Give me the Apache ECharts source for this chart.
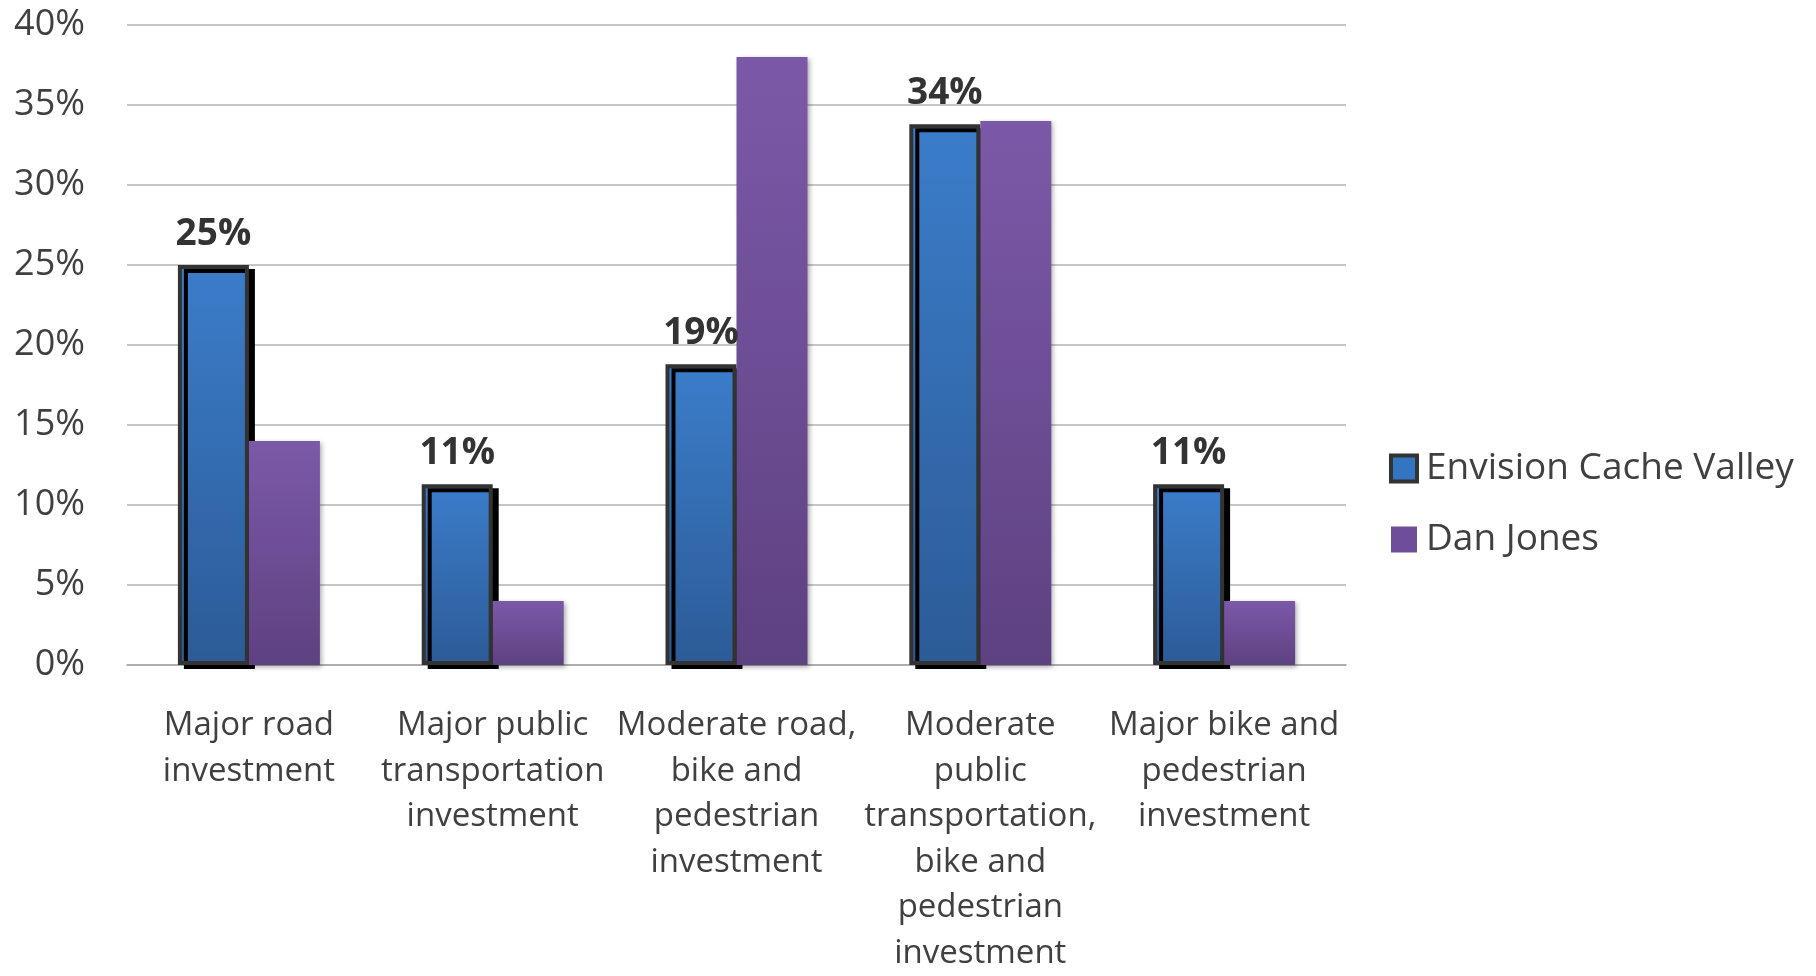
<!DOCTYPE html>
<html>
<head>
<meta charset="utf-8">
<script src="https://cdn.jsdelivr.net/npm/echarts@6/dist/echarts.min.js"></script>
<style>
  html, body { margin: 0; padding: 0; width: 100%; height: 100%; overflow: hidden; background: #fff; }
  #main { width: 100%; height: 100%; }
</style>
</head>
<body>
<div id="main"></div>
<script>
// data
const categories = [
  "Major road\ninvestment",
  "Major public\ntransportation\ninvestment",
  "Moderate road,\nbike and\npedestrian\ninvestment",
  "Moderate\npublic\ntransportation,\nbike and\npedestrian\ninvestment",
  "Major bike and\npedestrian\ninvestment"
];
const envisionValues = [25, 11.3, 18.8, 33.8, 11.3];
const danJonesValues = [14, 4, 38, 34, 4];
const seriesNames = ["Envision Cache Valley", "Dan Jones"];

const font = "'Open Sans', sans-serif";
const textColor = "#404040";

const blueFill = new echarts.graphic.LinearGradient(0, 0, 0, 1, [
  { offset: 0, color: "#3b7dca" },
  { offset: 1, color: "#2c5b97" }
]);
const purpleFill = new echarts.graphic.LinearGradient(0, 0, 0, 1, [
  { offset: 0, color: "#7c59a8" },
  { offset: 1, color: "#5e4181" }
]);

const chart = echarts.init(document.getElementById("main"));
chart.setOption({
  animation: false,
  textStyle: { fontFamily: font },
  grid: { left: 127, right: 470, top: 25, height: 648 },
  legend: {
    orient: "vertical",
    left: 1384,
    top: 445,
    icon: "rect",
    itemWidth: 26,
    itemHeight: 26,
    itemGap: 34,
    data: [
      { name: seriesNames[0], itemStyle: { color: "#3475c2", borderColor: "#333", borderWidth: 4 } },
      { name: seriesNames[1], itemStyle: { color: "#6e4e98", borderWidth: 0 } }
    ],
    textStyle: { fontSize: 37, color: textColor, fontFamily: font, padding: [0, 0, 0, 4] }
  },
  xAxis: {
    type: "category",
    data: categories,
    axisLine: { lineStyle: { color: "#a6a6a6", width: 1.5 } },
    axisTick: { show: false },
    axisLabel: {
      interval: 0,
      fontSize: 33,
      lineHeight: 45.5,
      color: textColor,
      fontFamily: font,
      margin: 38
    }
  },
  yAxis: {
    type: "value",
    min: 0,
    max: 40,
    interval: 5,
    axisLine: { show: false },
    axisTick: { show: false },
    splitLine: { lineStyle: { color: "#b3b3b3", width: 1.5 } },
    axisLabel: {
      formatter: "{value}%",
      fontSize: 36,
      color: textColor,
      fontFamily: font,
      margin: 42
    }
  },
  series: [
    {
      name: seriesNames[0],
      type: "bar",
      data: envisionValues,
      barWidth: 71,
      barGap: "0%",
      itemStyle: {
        color: blueFill,
        borderColor: "#333333",
        borderWidth: 4,
        shadowColor: "#000",
        shadowBlur: 0,
        shadowOffsetX: 6,
        shadowOffsetY: 4
      },
      label: {
        show: true,
        position: "top",
        distance: 12,
        fontSize: 37,
        fontWeight: "bold",
        color: "#333",
        fontFamily: font,
        formatter: p => Math.round(p.value) + "%"
      }
    },
    {
      name: seriesNames[1],
      type: "bar",
      data: danJonesValues,
      barWidth: 71,
      barGap: "0%",
      itemStyle: {
        color: purpleFill,
        shadowColor: "rgba(0,0,0,0.35)",
        shadowBlur: 5,
        shadowOffsetX: 2,
        shadowOffsetY: 2
      }
    }
  ]
});
</script>
</body>
</html>
